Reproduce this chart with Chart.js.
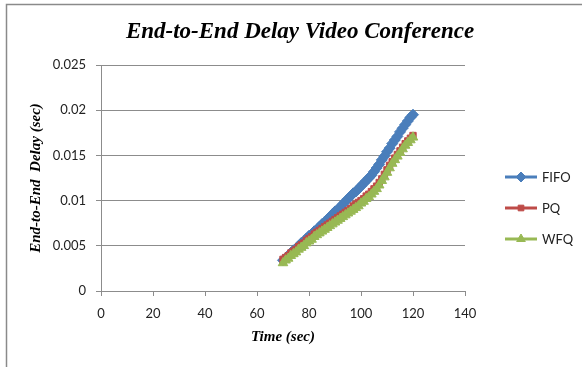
<!DOCTYPE html>
<html>
<head>
<meta charset="utf-8">
<script src="https://cdn.jsdelivr.net/npm/chart.js@4.4.1/dist/chart.umd.min.js"></script>
<style>
  html, body { margin: 0; padding: 0; background: #ffffff; }
  #wrap { width: 582px; height: 367px; position: relative; }
</style>
</head>
<body>
<div id="wrap"><canvas id="c" width="582" height="367"></canvas></div>
<script>
// Simulation time (sec)
const timeSec = [70,71,72,73,74,75,76,77,78,79,80,81,82,83,84,85,86,87,88,89,90,
  91,92,93,94,95,96,97,98,99,100,101,102,103,104,105,106,107,108,109,110,
  111,112,113,114,115,116,117,118,119,120];

// End-to-end delay (sec) per queuing discipline
const fifoDelay = [0.0034,0.0036,0.0039,0.0042,0.0045,0.0047,0.0050,0.0053,0.0055,0.0058,0.0061,
  0.0063,0.0066,0.0068,0.0071,0.0074,0.0076,0.0079,0.0082,0.0085,0.0088,
  0.0090,0.0093,0.0096,0.0099,0.0102,0.0105,0.0108,0.0110,0.0113,0.0116,
  0.0119,0.0122,0.0125,0.0128,0.0132,0.0136,0.0140,0.0145,0.0149,0.0154,
  0.0158,0.0163,0.0167,0.0171,0.0176,0.0180,0.0184,0.0188,0.0192,0.0195];

const pqDelay = [0.0035,0.0037,0.0039,0.0042,0.0044,0.0046,0.0049,0.0051,0.0053,0.0056,0.0058,
  0.0060,0.0063,0.0065,0.0067,0.0069,0.0071,0.0073,0.0075,0.0077,0.0079,
  0.0081,0.0083,0.0085,0.0087,0.0089,0.0091,0.0094,0.0096,0.0098,0.0100,
  0.0102,0.0105,0.0107,0.0110,0.0113,0.0116,0.0120,0.0124,0.0129,0.0134,
  0.0139,0.0143,0.0147,0.0151,0.0155,0.0159,0.0163,0.0166,0.0169,0.0172];

const wfqDelay = [0.0031,0.0034,0.0036,0.0039,0.0041,0.0043,0.0046,0.0048,0.0050,0.0053,0.0055,
  0.0057,0.0060,0.0062,0.0064,0.0066,0.0068,0.0070,0.0072,0.0074,0.0076,
  0.0078,0.0080,0.0082,0.0084,0.0086,0.0088,0.0090,0.0092,0.0094,0.0097,
  0.0099,0.0102,0.0104,0.0107,0.0110,0.0113,0.0117,0.0122,0.0126,0.0131,
  0.0136,0.0141,0.0145,0.0149,0.0153,0.0157,0.0161,0.0164,0.0167,0.0170];

const seriesNames = ['FIFO', 'PQ', 'WFQ'];
const yTickLabels = ['0', '0.005', '0.01', '0.015', '0.02', '0.025'];
const xTickLabels = ['0', '20', '40', '60', '80', '100', '120', '140'];

const chartTitle = 'End-to-End Delay Video Conference';
const xTitle = 'Time (sec)';
const yTitle = 'End-to-End  Delay (sec)';

function pairs(xs, ys) { return xs.map((x, i) => ({ x: x, y: ys[i] })); }

const GRID = '#8c8c8c';
const TICK_FONT = { family: 'Lato, "Open Sans", sans-serif', size: 13 };
const TITLE_FONT = { family: '"Liberation Serif", "DejaVu Serif", serif', weight: 'bold', style: 'italic' };

// White page with a thin frame on the top and left edges
const framePlugin = {
  id: 'frame',
  beforeDraw(chart) {
    const ctx = chart.ctx;
    ctx.save();
    ctx.fillStyle = '#ffffff';
    ctx.fillRect(0, 0, chart.width, chart.height);
    ctx.strokeStyle = '#8a8a8a';
    ctx.lineWidth = 1.5;
    ctx.beginPath();
    ctx.moveTo(6.5, chart.height);
    ctx.lineTo(6.5, 4.5);
    ctx.lineTo(chart.width, 4.5);
    ctx.stroke();
    ctx.restore();
  }
};

// Chart title drawn above the plot
const titlePlugin = {
  id: 'bigTitle',
  afterDraw(chart) {
    const ctx = chart.ctx;
    ctx.save();
    ctx.font = 'italic bold 23px "Liberation Serif", "DejaVu Serif", serif';
    ctx.fillStyle = '#000000';
    ctx.textAlign = 'center';
    ctx.textBaseline = 'alphabetic';
    ctx.fillText(chartTitle, 300, 38);
    ctx.restore();
  }
};

// Legend with a line segment and marker per series
const lineLegendPlugin = {
  id: 'lineLegend',
  afterDraw(chart) {
    const ctx = chart.ctx;
    ctx.save();
    chart.data.datasets.forEach((ds, i) => {
      const y = 177 + i * 31;
      ctx.strokeStyle = ds.borderColor;
      ctx.lineWidth = 3;
      ctx.beginPath();
      ctx.moveTo(505, y);
      ctx.lineTo(537, y);
      ctx.stroke();
      ctx.fillStyle = ds.pointBackgroundColor;
      ctx.strokeStyle = ds.pointBorderColor;
      ctx.lineWidth = 1;
      Chart.helpers.drawPoint(ctx, { pointStyle: ds.pointStyle, radius: ds.pointRadius - 0.5, rotation: 0, borderWidth: 1 }, 521, y);
      ctx.fillStyle = '#222222';
      ctx.font = '13px Lato, "Open Sans", sans-serif';
      ctx.textAlign = 'left';
      ctx.textBaseline = 'middle';
      ctx.fillText(ds.label, 542, y + 1);
    });
    ctx.restore();
  }
};

function makeSet(label, data, color, style, radius, order) {
  return {
    label: label,
    data: data,
    showLine: true,
    borderColor: color,
    backgroundColor: color,
    pointBackgroundColor: color,
    pointBorderColor: color,
    borderWidth: 3,
    pointStyle: style,
    pointRadius: radius,
    pointBorderWidth: 1,
    tension: 0,
    order: order
  };
}

new Chart(document.getElementById('c'), {
  type: 'scatter',
  data: {
    datasets: [
      makeSet(seriesNames[0], pairs(timeSec, fifoDelay), '#4a7ebb', 'rectRot', 5.5, 2),
      makeSet(seriesNames[1], pairs(timeSec, pqDelay), '#be4b48', 'rect', 4.5, 1),
      makeSet(seriesNames[2], pairs(timeSec, wfqDelay), '#98b954', 'triangle', 5.5, 0)
    ]
  },
  options: {
    responsive: false,
    animation: false,
    devicePixelRatio: 1,
    layout: { padding: { left: 18, top: 65, right: 117, bottom: 0 } },
    plugins: {
      legend: { display: false },
      title: { display: false },
      tooltip: { enabled: false }
    },
    scales: {
      x: {
        type: 'linear',
        min: 0, max: 140,
        ticks: {
          stepSize: 20,
          padding: 10,
          color: '#222222',
          font: TICK_FONT,
          callback: (v, i) => xTickLabels[i]
        },
        grid: { drawOnChartArea: false, drawTicks: true, tickLength: 5, color: GRID, lineWidth: 1 },
        border: { color: GRID, width: 1 },
        title: { display: true, text: xTitle, color: '#000000', font: Object.assign({ size: 15 }, TITLE_FONT), padding: { top: 0, bottom: 21 } },
        afterFit(s) { s.height = 76; }
      },
      y: {
        type: 'linear',
        min: 0, max: 0.025,
        ticks: {
          stepSize: 0.005,
          padding: 10,
          color: '#222222',
          font: TICK_FONT,
          callback: (v, i) => yTickLabels[i]
        },
        grid: { drawOnChartArea: true, drawTicks: true, tickLength: 5, color: GRID, lineWidth: 1 },
        border: { color: GRID, width: 1 },
        title: { display: true, text: yTitle, color: '#000000', font: Object.assign({ size: 15 }, TITLE_FONT), padding: { top: 9, bottom: 0 } },
        afterFit(s) { s.width = 83; }
      }
    }
  },
  plugins: [framePlugin, titlePlugin, lineLegendPlugin]
});
</script>
</body>
</html>
